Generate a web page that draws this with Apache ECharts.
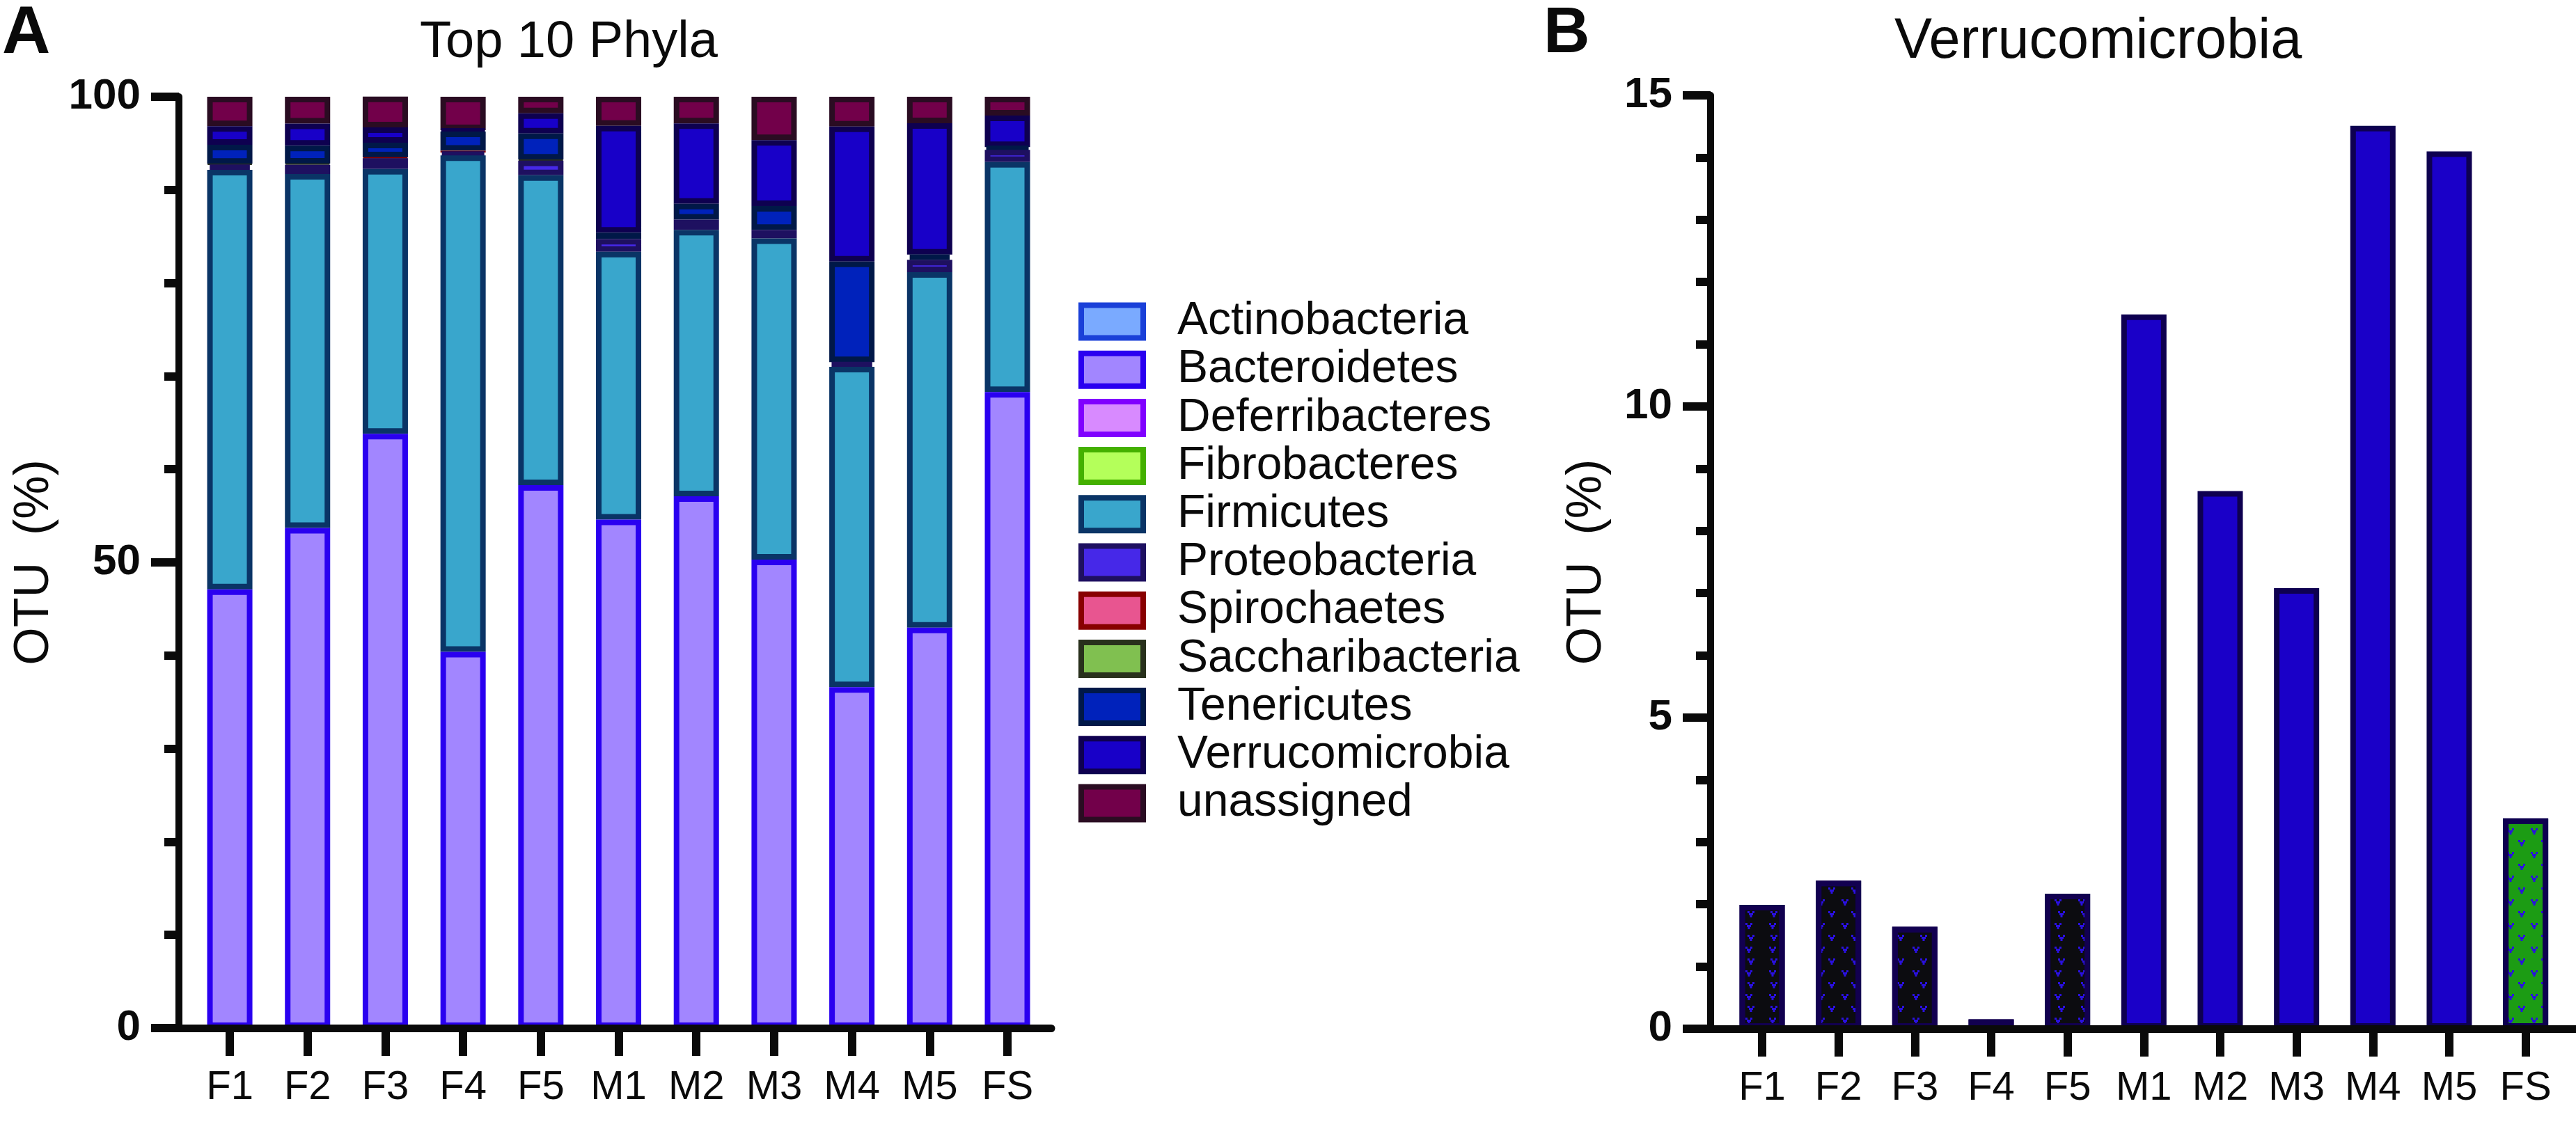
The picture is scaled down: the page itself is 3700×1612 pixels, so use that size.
<!DOCTYPE html>
<html><head><meta charset="utf-8">
<script src="https://cdn.jsdelivr.net/npm/echarts@6/dist/echarts.min.js"></script>
<style>html,body{margin:0;padding:0;background:#fff}#c{width:3700px;height:1612px}</style>
</head><body><div id="c"></div>
<script>
// ---------- data ----------
const categories = ['F1','F2','F3','F4','F5','M1','M2','M3','M4','M5','FS'];
const phyla = ['Actinobacteria','Bacteroidetes','Deferribacteres','Fibrobacteres','Firmicutes',
  'Proteobacteria','Spirochaetes','Saccharibacteria','Tenericutes','Verrucomicrobia','unassigned'];
const actinobacteria   = [0, 0, 0, 0, 0, 0, 0, 0, 0, 0, 0];
const bacteroidetes    = [47.1, 53.7, 63.8, 40.4, 58.3, 54.6, 57.1, 50.3, 36.6, 43.0, 68.3];
const deferribacteres  = [0, 0, 0, 0, 0, 0, 0, 0, 0, 0, 0];
const fibrobacteres    = [0, 0, 0, 0, 0, 0, 0, 0, 0, 0, 0];
const firmicutes       = [45.05, 38.0, 28.45, 53.3, 33.28, 28.76, 28.6, 34.5, 34.4, 38.17, 24.7];
const proteobacteria   = [0.55, 1.0, 1.15, 0.3, 1.57, 1.37, 1.1, 0.9, 0.5, 1.32, 1.3];
const spirochaetes     = [0, 0, 0.1, 0.2, 0, 0, 0, 0, 0, 0, 0];
const saccharibacteria = [0.1, 0.13, 0, 0, 0.1, 0, 0, 0, 0, 0, 0];
const tenericutes      = [2.05, 1.92, 1.57, 2.06, 2.81, 0.67, 1.7, 2.57, 10.8, 0.57, 0.3];
const verrucomicrobia  = [1.99, 2.38, 1.64, 0.15, 2.17, 11.48, 8.64, 7.08, 14.51, 14.10, 3.38];
const unassigned       = [3.16, 2.87, 3.3, 3.59, 1.77, 3.12, 2.86, 4.65, 3.19, 2.84, 2.02];
const phylaValues = [actinobacteria, bacteroidetes, deferribacteres, fibrobacteres, firmicutes,
  proteobacteria, spirochaetes, saccharibacteria, tenericutes, verrucomicrobia, unassigned];
const yTicksA = {min: 0, max: 100, step: 50};
const yTicksB = {min: 0, max: 15, step: 5};
const titleA = 'Top 10 Phyla';
const titleB = 'Verrucomicrobia';
const yName = 'OTU  (%)';

// ---------- styles ----------
const FONT = "'Liberation Sans', Arial, Helvetica, sans-serif";
const fills   = ['#7aaaff','#a286ff','#d88aff','#b4ff5a','#39a6cc','#4628e8','#e85590','#80c050','#0022bb','#1800c8','#72004a'];
const borders = ['#1a40d8','#2a00f0','#8000ff','#44b000','#0a3466','#1e1060','#880000','#28301c','#001848','#0e0050','#2a0c22'];
const thinSeries = {'Spirochaetes': 2, 'Saccharibacteria': 2};
const INK = '#0a0a0a';

const idx = categories.map((c, i) => i);

const seriesA = phyla.map((name, k) => ({
  name: name, type: 'bar', stack: 'A', xAxisIndex: 0, yAxisIndex: 0,
  barWidth: 65, clip: false, z: 30 - k,
  encode: {x: 1, y: 0},
  itemStyle: {color: fills[k], borderColor: borders[k], borderWidth: thinSeries[name] || 8},
  emphasis: {disabled: true},
  data: phylaValues[k].map((v, j) => [v > 0 ? v : '-', j])
}));

const vDecal = {
  symbol: 'path://M0,0H3V3H0Z M7,0H10V3H7Z M2,3H8V6H2Z M3.5,6H6.5V9H3.5Z',
  symbolSize: 1, symbolKeepAspect: true, color: '#2a10e0',
  dashArrayX: [[10, 23], [0, 16.5, 10, 6.5]], dashArrayY: [9, 7.5], rotation: 0
};
const barStyleB = categories.map(c => {
  if (c[0] === 'M') return {color: '#1a00c8', borderColor: '#0e0050', borderWidth: 8};
  if (c === 'FS') return {color: '#1c9c14', borderColor: '#0e0050', borderWidth: 8, decal: vDecal};
  return {color: '#0c0c10', borderColor: '#120050', borderWidth: 8, decal: vDecal};
});

const seriesB = {
  name: 'Verrucomicrobia (B)', type: 'bar', xAxisIndex: 1, yAxisIndex: 1,
  barWidth: 65, clip: false, encode: {x: 1, y: 0}, emphasis: {disabled: true},
  data: verrucomicrobia.map((v, j) => ({value: [v, j], itemStyle: barStyleB[j]}))
};

function xAxisCfg(gridIndex, min, max) {
  return {
    type: 'value', gridIndex, min, max, z: 50,
    splitLine: {show: false},
    axisLine: {show: true, onZero: false, lineStyle: {color: INK, width: 11}},
    axisTick: {show: true, customValues: idx, length: 40, lineStyle: {color: INK, width: 12}},
    axisLabel: {show: true, customValues: idx, formatter: v => categories[Math.round(v)],
      fontFamily: FONT, fontSize: 58, color: INK, margin: 57}
  };
}
function yAxisCfg(gridIndex, t, nameGap) {
  return {
    type: 'value', gridIndex, min: t.min, max: t.max, interval: t.step, z: 50,
    name: yName, nameLocation: 'middle', nameGap: nameGap, nameMoveOverlap: false,
    nameTextStyle: {fontFamily: FONT, fontSize: 70, color: INK},
    splitLine: {show: false},
    axisLine: {show: true, onZero: false, lineStyle: {color: INK, width: 10}},
    axisTick: {show: true, length: 40, lineStyle: {color: INK, width: 12}},
    minorTick: {show: true, splitNumber: 5, length: 21, lineStyle: {color: INK, width: 12}},
    axisLabel: {fontFamily: FONT, fontSize: 62, fontWeight: 'bold', color: INK, margin: 55}
  };
}

const option = {
  backgroundColor: '#ffffff',
  animation: false,
  grid: [
    {left: 257, top: 139, width: 1253, height: 1338},
    {left: 2457, top: 137, width: 1243, height: 1341}
  ],
  xAxis: [xAxisCfg(0, -0.654, 10.564), xAxisCfg(1, -0.675, 10.66)],
  yAxis: [yAxisCfg(0, yTicksA, 172), yAxisCfg(1, yTicksB, 142)],
  legend: {
    orient: 'vertical', left: 1549, top: 429, itemWidth: 89, itemHeight: 47, itemGap: 3.2,
    padding: 0, icon: 'rect', selectedMode: false, itemStyle: {borderWidth: 8},
    data: phyla,
    formatter: n => '{t|' + n + '}',
    textStyle: {rich: {t: {fontFamily: FONT, fontSize: 66, color: INK, padding: [0, 0, 0, 44]}}}
  },
  graphic: [
    {type: 'text', style: {text: 'A', x: 3, y: 50, font: 'bold 96px ' + FONT, fill: INK, textVerticalAlign: 'middle'}},
    {type: 'text', style: {text: 'B', x: 2217, y: 50, font: 'bold 92px ' + FONT, fill: INK, textVerticalAlign: 'middle'}},
    {type: 'text', style: {text: titleA, x: 603, y: 62, font: '74px ' + FONT, fill: INK, textVerticalAlign: 'middle'}},
    {type: 'text', style: {text: titleB, x: 2721, y: 61, font: '81px ' + FONT, fill: INK, textVerticalAlign: 'middle'}}
  ],
  series: seriesA.concat([seriesB])
};

echarts.init(document.getElementById('c')).setOption(option);
</script></body></html>
